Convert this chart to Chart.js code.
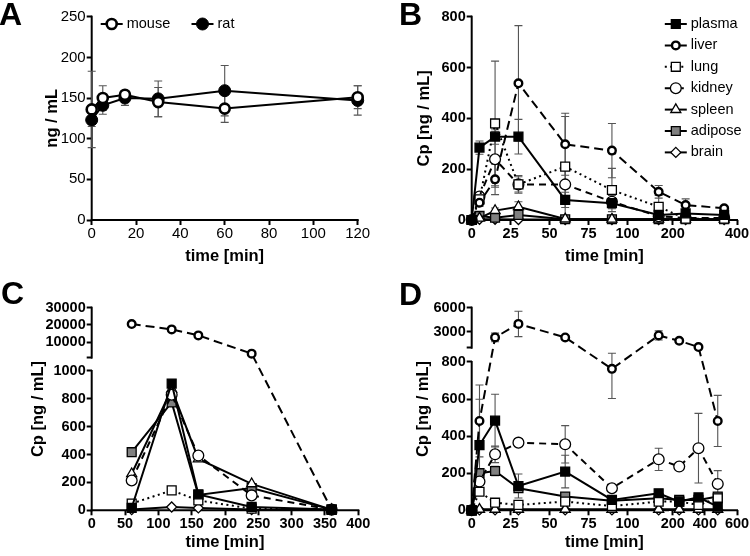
<!DOCTYPE html>
<html>
<head>
<meta charset="utf-8">
<script src="https://cdn.jsdelivr.net/npm/chart.js@4.4.1/dist/chart.umd.min.js"></script>
<style>
  body { margin: 0; background: #fff; }
  #fig { position: relative; width: 750px; height: 556px; overflow: hidden; }
  canvas { position: absolute; }
  .tag { position: absolute; font: bold 32px "Liberation Sans", Arial, sans-serif; line-height: 32px; }
</style>
</head>
<body>
<div id="fig">
  <canvas id="cA" width="375" height="278" style="left:0;top:0"></canvas>
  <canvas id="cB" width="375" height="278" style="left:375px;top:0"></canvas>
  <canvas id="cC" width="375" height="278" style="left:0;top:278px"></canvas>
  <canvas id="cD" width="375" height="278" style="left:375px;top:278px"></canvas>
  <div class="tag" style="left:-1px;top:-2px">A</div>
  <div class="tag" style="left:399px;top:-2px">B</div>
  <div class="tag" style="left:1px;top:277px">C</div>
  <div class="tag" style="left:399px;top:278px">D</div>
</div>
<script>
// ---- panel A: plasma, mouse vs rat ----
const timeA = [0, 5, 15, 30, 60, 120];
const mouseA = [136, 150, 154, 145, 137, 151];
const mouseA_sd = [47, 15, 5, 18, 17, 14];
const ratA = [123, 141, 150, 149, 159, 147];
const ratA_sd = [8, 11, 9, 22, 31, 18];
const xTicksA = [0, 20, 40, 60, 80, 100, 120];
const yTicksA = [0, 50, 100, 150, 200, 250];

// ---- panel B ----
const timeB = [0, 5, 15, 30, 60, 90, 120, 240, 360];
const plasmaB = [0, 285, 328, 328, 79, 66, 20, 26, 20];
const plasmaB_sd = [0, 26, 30, 68, 30, 22, 10, 8, 5];
const liverB = [0, 68, 160, 538, 298, 273, 111, 59, 46];
const liverB_sd = [0, 15, 60, 227, 122, 107, 25, 24, 8];
const lungB = [0, 81, 380, 140, 210, 118, 52, 5, 5];
const lungB_sd = [0, 10, 245, 30, 197, 85, 45, 5, 3];
const kidneyB = [0, 92, 239, 140, 140, 72, 15, 8, 8];
const kidneyB_sd = [0, 10, 110, 35, 60, 25, 10, 4, 3];
const spleenB = [0, 7, 37, 52, 4, 3, 3, 3, 3];
const spleenB_sd = [0, 3, 10, 20, 2, 2, 2, 2, 2];
const adiposeB = [0, 16, 9, 20, 3, 3, 3, 3, 3];
const adiposeB_sd = [0, 5, 6, 20, 2, 2, 2, 2, 2];
const brainB = [0, 3, 3, 2, 2, 2, 2, 2, 2];
const xTicksB1 = [0, 25, 50, 75, 100];
const xTicksB2 = [200, 400];
const yTicksB = [0, 200, 400, 600, 800];

// ---- panel C ----
const timeC = [60, 120, 160, 240, 360];
const plasmaC = [18, 910, 114, 24, 5];
const liverC = [20500, 17400, 13900, 3300, 5];
const lungC = [48, 143, 71, 12, 5];
const kidneyC = [214, 830, 393, 107, 5];
const spleenC = [262, 870, 369, 190, 5];
const adiposeC = [417, 774, 110, 160, 5];
const brainC = [5, 24, 17, 5, 3];
const xTicksC = [0, 50, 100, 150, 200, 250, 300, 350, 400];
const yTicksClow = [0, 200, 400, 600, 800, 1000];
const yTicksChigh = [1000, 10000, 20000, 30000];

// ---- panel D ----
const timeD = [0, 5, 15, 30, 60, 90, 120, 240, 360, 480];
const plasmaD = [0, 352, 484, 131, 209, 56, 92, 47, 70, 20];
const plasmaD_sd = [0, 247, 142, 65, 88, 10, 15, 10, 10, 8];
const liverD = [0, 482, 2280, 3975, 2280, 763, 2530, 1870, 1080, 482];
const liverD_sd = [0, 194, 540, 1590, 0, 160, 570, 0, 0, 138];
const lungD = [0, 100, 41, 29, 47, 23, 47, 47, 29, 65];
const lungD_sd = [0, 15, 10, 5, 5, 5, 5, 5, 5, 10];
const kidneyD = [0, 155, 302, 365, 356, 119, 275, 236, 335, 142];
const kidneyD_sd = [0, 15, 45, 20, 101, 10, 60, 15, 188, 72];
const spleenD = [0, 5, 5, 5, 5, 5, 5, 5, 5, 5];
const adiposeD = [0, 200, 212, 119, 74, 52, 65, 56, 56, 74];
const adiposeD_sd = [0, 20, 25, 20, 10, 5, 10, 5, 5, 10];
const brainD = [0, 2, 2, 2, 2, 2, 2, 2, 2, 2];
const xTicksD1 = [0, 25, 50, 75, 100];
const xTicksD2 = [200, 400, 600];
const yTicksDlow = [0, 200, 400, 600, 800];
const yTicksDhigh = [1000, 3000, 6000];

Chart.defaults.font.family = '"Liberation Sans", Arial, sans-serif';
Chart.defaults.color = '#000';

// linear axis cut into pieces: breaks = [[min, max, fromFraction, toFraction], ...]
class BrokenScale extends Chart.LinearScale {
  static id = 'broken';
  static defaults = {};
  determineDataLimits() {
    const b = this.options.breaks;
    this.min = b[0][0];
    this.max = b[b.length - 1][1];
  }
  buildTicks() {
    return this.options.marks.map(m => ({ value: m[0], text: m[1], piece: m[2] }));
  }
  generateTickLabels(ticks) {
    ticks.forEach(t => { t.label = t.text; });
  }
  toDecimal(v, piece) {
    const b = this.options.breaks;
    const lin = (p, val) => p[2] + (val - p[0]) / (p[1] - p[0]) * (p[3] - p[2]);
    if (piece !== undefined && piece !== null) return lin(b[piece], v);
    for (let i = 0; i < b.length; i++) {
      const p = b[i];
      if (v <= p[1]) {
        if (v >= p[0] || i === 0) return lin(p, v);
        const q = b[i - 1];
        return q[3] + (v - q[1]) / (p[0] - q[1]) * (p[2] - q[3]);
      }
    }
    return lin(b[b.length - 1], v);
  }
  getPixelForValue(value) {
    if (value === null || value === undefined || isNaN(value)) return NaN;
    return this.getPixelForDecimal(this.toDecimal(+value));
  }
  getPixelForTick(index) {
    const t = this.ticks[index];
    return this.getPixelForDecimal(this.toDecimal(t.value, t.piece));
  }
  getValueForPixel(pixel) {
    const d = this.getDecimalForPixel(pixel);
    const b = this.options.breaks;
    for (const p of b) {
      if (d <= p[3]) return p[0] + (d - p[2]) / (p[3] - p[2]) * (p[1] - p[0]);
    }
    const p = b[b.length - 1];
    return p[0] + (d - p[2]) / (p[3] - p[2]) * (p[1] - p[0]);
  }
}
Chart.register(BrokenScale);

// axis lines with gaps at the breaks
const axisLines = {
  id: 'axisLines',
  beforeDatasetsDraw(chart) {
    const { ctx, chartArea } = chart;
    const xs = chart.scales.x, ys = chart.scales.y;
    ctx.save();
    ctx.strokeStyle = '#000';
    ctx.lineWidth = 2;
    ctx.lineCap = 'square';
    xs.options.breaks.forEach(p => {
      ctx.beginPath();
      ctx.moveTo(xs.getPixelForDecimal(p[2]), chartArea.bottom);
      ctx.lineTo(xs.getPixelForDecimal(p[3]), chartArea.bottom);
      ctx.stroke();
    });
    ys.options.breaks.forEach(p => {
      ctx.beginPath();
      ctx.moveTo(chartArea.left, ys.getPixelForDecimal(p[2]));
      ctx.lineTo(chartArea.left, ys.getPixelForDecimal(p[3]));
      ctx.stroke();
    });
    ctx.restore();
  }
};

// mean +/- SD bars
const errorBars = {
  id: 'errorBars',
  beforeDatasetsDraw(chart) {
    const { ctx } = chart;
    const xs = chart.scales.x, ys = chart.scales.y;
    ctx.save();
    ctx.strokeStyle = '#555';
    ctx.lineWidth = 1.1;
    chart.data.datasets.forEach(ds => {
      if (!ds.sd) return;
      ds.data.forEach((p, i) => {
        const e = ds.sd[i];
        if (!e) return;
        const x = xs.getPixelForValue(p.x);
        const yt = ys.getPixelForValue(p.y + e);
        const yb = ys.getPixelForValue(Math.max(0, p.y - e));
        ctx.beginPath();
        ctx.moveTo(x, yt); ctx.lineTo(x, yb);
        ctx.moveTo(x - 4, yt); ctx.lineTo(x + 4, yt);
        ctx.moveTo(x - 4, yb); ctx.lineTo(x + 4, yb);
        ctx.stroke();
      });
    });
    ctx.restore();
  }
};

// legend: line + marker + name
const keyBox = {
  id: 'keyBox',
  afterDatasetsDraw(chart, args, o) {
    if (!o || o.x === undefined) return;
    const ctx = chart.ctx;
    chart.data.datasets.forEach((ds, i) => {
      const x = o.x + i * o.dx, y = o.y + i * o.dy;
      ctx.save();
      ctx.strokeStyle = '#000';
      ctx.lineWidth = 2;
      ctx.setLineDash(ds.borderDash || []);
      ctx.beginPath();
      ctx.moveTo(x - 11, y); ctx.lineTo(x + 11, y);
      ctx.stroke();
      ctx.setLineDash([]);
      ctx.fillStyle = ds.pointBackgroundColor;
      ctx.lineWidth = ds.pointBorderWidth;
      Chart.helpers.drawPoint(ctx, { pointStyle: ds.pointStyle, radius: ds.pointRadius, borderWidth: ds.pointBorderWidth, rotation: 0 }, x, y);
      ctx.fillStyle = '#000';
      ctx.font = '14.5px "Liberation Sans", Arial, sans-serif';
      ctx.textBaseline = 'middle';
      ctx.fillText(ds.label, x + 15, y);
      ctx.restore();
    });
  }
};

const look = {
  plasma:  { pointStyle: 'rect', pointRadius: 6.3, pointBackgroundColor: '#000', pointBorderWidth: 1.3, borderDash: [] },
  liver:   { pointStyle: 'circle', pointRadius: 3.8, pointBackgroundColor: '#fff', pointBorderWidth: 2.4, borderDash: [9, 5] },
  lung:    { pointStyle: 'rect', pointRadius: 6.3, pointBackgroundColor: '#fff', pointBorderWidth: 1.3, borderDash: [2, 3.5] },
  kidney:  { pointStyle: 'circle', pointRadius: 5.4, pointBackgroundColor: '#fff', pointBorderWidth: 1.3, borderDash: [7, 5] },
  spleen:  { pointStyle: 'triangle', pointRadius: 5.8, pointBackgroundColor: '#fff', pointBorderWidth: 1.3, borderDash: [] },
  adipose: { pointStyle: 'rect', pointRadius: 6.3, pointBackgroundColor: '#808080', pointBorderWidth: 1.3, borderDash: [] },
  brain:   { pointStyle: 'rectRot', pointRadius: 5, pointBackgroundColor: '#fff', pointBorderWidth: 1.3, borderDash: [] },
  mouse:   { pointStyle: 'circle', pointRadius: 5, pointBackgroundColor: '#fff', pointBorderWidth: 2.6, borderDash: [] },
  rat:     { pointStyle: 'circle', pointRadius: 6, pointBackgroundColor: '#000', pointBorderWidth: 1, borderDash: [] }
};

function series(label, times, vals, sd) {
  return Object.assign({
    label: label,
    data: times.map((t, i) => ({ x: t, y: vals[i] })),
    sd: sd || null,
    borderColor: '#000',
    borderWidth: 2,
    pointBorderColor: '#000',
    tension: 0,
    clip: false
  }, look[label]);
}

function marks(values, piece, blankFirst) {
  return values.map((v, i) => [v, blankFirst && i === 0 ? '' : String(v), piece]);
}

function axis(pos, breaks, tickMarks, title, size, titlePad, bold) {
  return {
    type: 'broken',
    position: pos,
    breaks: breaks,
    marks: tickMarks,
    border: { display: false },
    grid: { display: true, drawOnChartArea: false, drawTicks: true, tickLength: 5, tickWidth: 2, tickColor: '#000' },
    ticks: {
      autoSkip: false, source: 'manual', maxRotation: 0, minRotation: 0, padding: pos === 'left' ? 1 : 0, color: '#000',
      font: bold ? { size: 14.5, weight: 'bold' } : { size: 15, weight: 'normal' }
    },
    title: { display: true, text: title, color: '#000', font: { size: 16.5, weight: 'bold' }, padding: titlePad },
    afterFit: s => { if (pos === 'left') s.width = size; else s.height = size; }
  };
}

function panel(id, datasets, x, y, pad, key) {
  return new Chart(document.getElementById(id), {
    type: 'line',
    data: { datasets: datasets },
    options: {
      responsive: false,
      animation: false,
      events: [],
      layout: { padding: pad },
      plugins: { legend: { display: false }, tooltip: { enabled: false }, keyBox: key || false },
      scales: { x: x, y: y }
    },
    plugins: [axisLines, errorBars, keyBox]
  });
}

panel('cA',
  [series('mouse', timeA, mouseA, mouseA_sd), series('rat', timeA, ratA, ratA_sd)],
  axis('bottom', [[0, 120, 0, 1]], marks(xTicksA), 'time [min]', 46.6, { top: 0, bottom: 0 }, false),
  axis('left', [[0, 250, 0, 1]], marks(yTicksA), 'ng / mL', 91.7, { top: 42.1, bottom: 0 }, false),
  { left: 0, top: 16.7, right: 17.3, bottom: 11.4 },
  { x: 111.7, y: 24, dx: 90.8, dy: 0 });

panel('cB',
  [series('plasma', timeB, plasmaB, plasmaB_sd), series('liver', timeB, liverB, liverB_sd),
   series('lung', timeB, lungB, lungB_sd), series('kidney', timeB, kidneyB, kidneyB_sd),
   series('spleen', timeB, spleenB, spleenB_sd), series('adipose', timeB, adiposeB, adiposeB_sd),
   series('brain', timeB, brainB)],
  axis('bottom', [[0, 126, 0, 0.74], [200, 400, 0.758, 1]], marks(xTicksB1, 0).concat(marks(xTicksB2, 1)), 'time [min]', 46.6, { top: 0, bottom: 0 }, true),
  axis('left', [[0, 800, 0, 1]], marks(yTicksB), 'Cp [ng / mL]', 96.7, { top: 39.1, bottom: 0 }, true),
  { left: 0, top: 16.7, right: 13, bottom: 11.4 },
  { x: 300.8, y: 24, dx: 0, dy: 21.4 });

panel('cC',
  [series('plasma', timeC, plasmaC), series('liver', timeC, liverC),
   series('lung', timeC, lungC), series('kidney', timeC, kidneyC),
   series('spleen', timeC, spleenC), series('adipose', timeC, adiposeC),
   series('brain', timeC, brainC)],
  axis('bottom', [[0, 400, 0, 1]], marks(xTicksC), 'time [min]', 42.3, { top: 0, bottom: 0 }, true),
  axis('left', [[0, 1000, 0, 0.6876], [1000, 30000, 0.7537, 1]], marks(yTicksClow, 0).concat(marks(yTicksChigh, 1, true)), 'Cp [ng / mL]', 91.7, { top: 28.4, bottom: 0 }, true),
  { left: 0, top: 29.7, right: 16.7, bottom: 3.4 });

panel('cD',
  [series('plasma', timeD, plasmaD, plasmaD_sd), series('liver', timeD, liverD, liverD_sd),
   series('lung', timeD, lungD, lungD_sd), series('kidney', timeD, kidneyD, kidneyD_sd),
   series('spleen', timeD, spleenD), series('adipose', timeD, adiposeD, adiposeD_sd),
   series('brain', timeD, brainD)],
  axis('bottom', [[0, 126, 0, 0.74], [200, 600, 0.758, 1]], marks(xTicksD1, 0).concat(marks(xTicksD2, 1)), 'time [min]', 42.3, { top: 0, bottom: 0 }, true),
  axis('left', [[0, 800, 0, 0.732], [1000, 6000, 0.8026, 1]], marks(yTicksDlow, 0).concat(marks(yTicksDhigh, 1, true)), 'Cp [ng / mL]', 96.7, { top: 38.1, bottom: 0 }, true),
  { left: 0, top: 29.7, right: 13, bottom: 3.4 });
</script>
</body>
</html>
